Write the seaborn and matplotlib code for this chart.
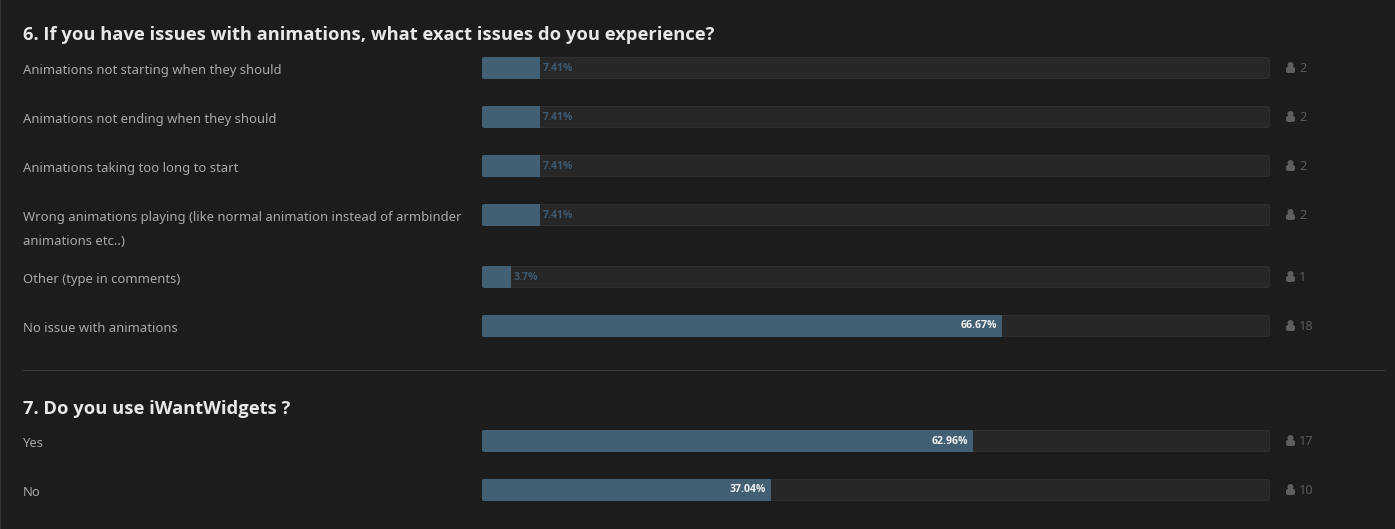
import matplotlib
matplotlib.use("Agg")
import matplotlib.pyplot as plt
import seaborn as sns
import pandas as pd
from matplotlib.patches import Circle, FancyBboxPatch, Rectangle
from matplotlib.transforms import IdentityTransform

W, H = 1395, 529
BG = "#1c1c1c"
TRACK = "#272727"
EDGE = "#2f2f2f"
FILL = "#426074"

titles = ["6. If you have issues with animations, what exact issues do you experience?",
          "7. Do you use iWantWidgets ?"]
title_rows = [35, 409]

options = ["Animations not starting when they should",
           "Animations not ending when they should",
           "Animations taking too long to start",
           "Wrong animations playing (like normal animation instead of armbinder\nanimations etc..)",
           "Other (type in comments)",
           "No issue with animations",
           "Yes",
           "No"]
percents = [7.41, 7.41, 7.41, 7.41, 3.7, 66.67, 62.96, 37.04]
voters = [2, 2, 2, 2, 1, 18, 17, 10]
bar_tops = [57, 106, 155, 204, 266, 315, 430, 479]

BAR_LEFT, BAR_RIGHT, BAR_H = 482, 1270, 22

sns.set_theme(style="white", rc={"font.family": ["Noto Sans", "DejaVu Sans"]})
fig = plt.figure(figsize=(W / 100, H / 100), dpi=100, facecolor=BG)


def fx(x):
    return x / W


def fy(y):
    return 1 - y / H


def draw_row(label, pct, count, top):
    ax = fig.add_axes([fx(BAR_LEFT), fy(top + BAR_H), (BAR_RIGHT - BAR_LEFT) / W, BAR_H / H])
    ax.patch.set_visible(False)
    track = FancyBboxPatch((BAR_LEFT + 1.5, H - top - BAR_H + 1.5), BAR_RIGHT - BAR_LEFT - 3, BAR_H - 3,
                           boxstyle="round,pad=1,rounding_size=2", transform=IdentityTransform(),
                           facecolor=TRACK, edgecolor=EDGE, linewidth=1, zorder=0)
    ax.add_artist(track)
    frame = pd.DataFrame({"option": [label], "percent": [pct]})
    sns.barplot(data=frame, x="percent", y="option", ax=ax, color=FILL, saturation=1, width=1,
                linewidth=0, edgecolor="none", zorder=2)
    ax.set_xlim(0, 101)
    ax.set_ylim(0.5, -0.5)
    ax.set_axis_off()
    clip = FancyBboxPatch((BAR_LEFT + 1, H - top - BAR_H + 1), BAR_RIGHT - BAR_LEFT - 2, BAR_H - 2,
                          boxstyle="round,pad=1,rounding_size=2", transform=IdentityTransform())
    for bar in ax.patches:
        bar.set_clip_path(clip)
    # percentage caption: inside long bars, just after short ones
    if pct > 20:
        ax.annotate(f"{pct:g}%", (pct, 0), xytext=(-5, 0), textcoords="offset pixels",
                    ha="right", va="center", fontsize=7.6, fontweight="bold", family="Open Sans",
                    color="#f2f2f2", zorder=3)
    else:
        ax.annotate(f"{pct:g}%", (pct, 0), xytext=(3, -0.6), textcoords="offset pixels",
                    ha="left", va="center", fontsize=7.6, fontweight="bold", family="Open Sans",
                    color="#3f5a70", zorder=3)

    # voter icon and count
    cy = H - top - 11
    fig.add_artist(Circle((1290.5, cy + 3), 3, transform=IdentityTransform(), facecolor="#5e5e5e", edgecolor="none"))
    fig.add_artist(FancyBboxPatch((1287.5, cy - 3.5), 6, 3, boxstyle="round,pad=1.5,rounding_size=2",
                                  transform=IdentityTransform(), facecolor="#5e5e5e", edgecolor="none"))
    fig.text(fx(1299), fy(top + 11.3), str(count), ha="left", va="center", fontsize=9.2, color="#5a5a5a")

    lines = label.split("\n")
    for i, line in enumerate(lines):
        fig.text(fx(23), fy(top + 13.1 + i * 24), line, ha="left", va="center", fontsize=9.4, color="#a9a9a9")


for label, pct, count, top in zip(options, percents, voters, bar_tops):
    draw_row(label, pct, count, top)

for title, row in zip(titles, title_rows):
    fig.text(fx(23), fy(row), title, ha="left", va="center", fontsize=13.2, fontweight="bold",
             family="Open Sans", color="#e8e8e8")

# section divider and window edge
fig.add_artist(Rectangle((23, H - 371), 1362, 1, transform=IdentityTransform(), facecolor="#3a3a3a", edgecolor="none"))
fig.add_artist(Rectangle((0, 0), 1, H, transform=IdentityTransform(), facecolor="#333333", edgecolor="none"))

fig.savefig("out.png", dpi=100, facecolor=BG)
